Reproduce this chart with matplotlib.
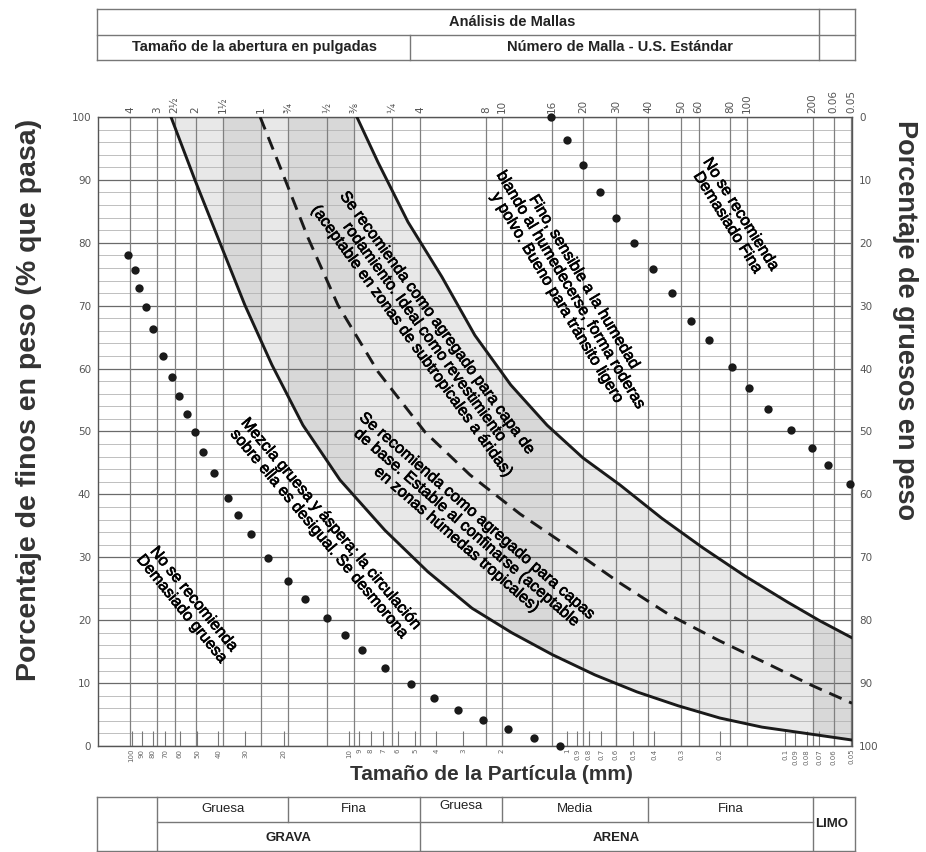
# -*- coding: utf-8 -*-
"""
Curva granulométrica - Análisis de Mallas
Eje X logarítmico (tamaño de partícula en mm), eje Y porcentaje que pasa
"""
import matplotlib.pyplot as plt
import matplotlib.patheffects as pe
from matplotlib.patches import Polygon
from matplotlib.lines import Line2D
from matplotlib.ticker import NullLocator, FixedLocator
from matplotlib.transforms import blended_transform_factory

plt.rcParams['font.family'] = ['Liberation Sans', 'DejaVu Sans']

# -------------------- datos --------------------
malla_mm = [101.6, 76.2, 63.5, 50.8, 38.1, 25.4, 19.05, 12.7, 9.525, 6.35, 4.75,
            2.36, 2.0, 1.18, 0.85, 0.6, 0.425, 0.3, 0.25, 0.18, 0.15, 0.075, 0.06, 0.05]
malla_txt = ['4', '3', '2½', '2', '1½', '1', '¾', '½', '⅜', '¼', '4',
             '8', '10', '16', '20', '30', '40', '50', '60', '80', '100', '200', '0.06', '0.05']

escala_mm = [100, 90, 80, 70, 60, 50, 40, 30, 20, 10, 9, 8, 7, 6, 5, 4, 3, 2, 1,
             0.9, 0.8, 0.7, 0.6, 0.5, 0.4, 0.3, 0.2, 0.1, 0.09, 0.08, 0.07, 0.06, 0.05]
escala_txt = ['%g' % v for v in escala_mm]

# curva límite gruesa (izquierda), línea media discontinua, límite fina (derecha)
lim_grueso_x = [65.9, 51.2, 39.3, 30.2, 22.7, 16.35, 11.06, 6.88, 4.37, 2.74, 1.80, 1.17,
                0.748, 0.48, 0.311, 0.20, 0.128, 0.083, 0.0495]
lim_grueso_y = [100, 90, 80, 70.1, 60.6, 51.0, 42.3, 34.3, 27.7, 21.9, 18.0, 14.5,
                11.3, 8.6, 6.4, 4.45, 3.0, 2.07, 0.95]
media_x = [25.7, 20.4, 15.5, 11.3, 7.4, 4.5, 2.80, 1.652, 0.975, 0.574, 0.339, 0.20,
           0.118, 0.0764, 0.0495]
media_y = [100, 91.3, 80.8, 70.1, 59.5, 49.9, 43.1, 36.9, 31.5, 25.9, 20.8, 16.7,
           12.9, 9.7, 6.8]
lim_fino_x = [9.25, 7.40, 5.39, 3.77, 2.66, 1.82, 1.24, 0.849, 0.574, 0.369, 0.239, 0.153,
              0.098, 0.0695, 0.0495]
lim_fino_y = [100, 92.8, 83.3, 74.6, 65.3, 57.4, 51.0, 45.8, 41.5, 36.2, 31.5, 27.0,
              22.9, 19.9, 17.2]

# puntos (demasiado gruesa / demasiado fina)
gruesa_x = [103.8, 96.4, 92.5, 85.8, 79.7, 71.7, 65.2, 60.6, 55.7, 51.2, 47.0, 41.8, 36.1, 32.5,
            28.3, 23.7, 19.1, 16.0, 12.7, 10.5, 8.77, 6.88, 5.22, 4.10, 3.18, 2.44, 1.88, 1.42, 1.08]
gruesa_y = [78.1, 75.7, 72.8, 69.8, 66.3, 62.0, 58.7, 55.6, 52.8, 49.9, 46.7, 43.4, 39.4, 36.7,
            33.7, 29.9, 26.2, 23.4, 20.3, 17.6, 15.3, 12.4, 9.9, 7.6, 5.7, 4.1, 2.7, 1.3, 0.0]
fina_x = [1.19, 1.005, 0.849, 0.710, 0.599, 0.496, 0.405, 0.332, 0.271, 0.224, 0.176, 0.147,
          0.120, 0.0944, 0.0756, 0.0638, 0.0506]
fina_y = [100, 96.3, 92.4, 88.1, 83.9, 80.0, 75.8, 72.0, 67.6, 64.5, 60.3, 56.9, 53.6, 50.2,
          47.4, 44.7, 41.7]

# franjas algo más oscuras dentro de la zona sombreada
franjas = [(38.1, 25.4), (19.05, 9.525), (2.0, 1.18), (0.075, 0.05)]

# textos rotados: (texto, x mm, y %, rotación)
notas = [
    ('No se recomienda\nDemasiado gruesa', 55.1, 22.6, -51),
    ('Mezcla gruesa y áspera; la circulación\nsobre ella es desigual. Se desmorona', 12.9, 34.5, -50),
    ('Se recomienda como agregado para capa de\nrodamiento. Ideal como revestimiento\n'
     '(aceptable en zonas de subtropicales a áridas)', 4.51, 65.8, -54),
    ('Se recomienda como agregado para capas\nde base. Estable al confinarse (aceptable\n'
     'en zonas húmedas tropicales)', 2.89, 34.7, -41),
    ('Fino, sensible a la humedad\nblando al humedecerse, forma roderas\n'
     'y polvo. Bueno para tránsito ligero', 0.964, 72.5, -59),
    ('No se recomienda\nDemasiado Fina', 0.1714, 83.9, -58),
]

# clasificación de suelos (tabla inferior)
limites_clase = [76.2, 19.05, 4.75, 2.0, 0.425, 0.075]
subclases = ['Gruesa', 'Fina', 'Gruesa', 'Media', 'Fina']
clases = [('GRAVA', 76.2, 4.75), ('ARENA', 4.75, 0.075)]

# -------------------- figura --------------------
W, H = 926, 852
fig = plt.figure(figsize=(W / 100, H / 100), dpi=100)


def fx(px):
    return px / W


def fy(py):
    return 1 - py / H


ax = fig.add_axes([fx(98), fy(746), (852 - 98) / W, (746 - 117) / H])
ax.set_xscale('log')
ax.set_xlim(142.5, 0.0495)
ax.set_ylim(0, 100)

# rejilla
for v in range(0, 101, 2):
    if v % 10 == 0:
        ax.axhline(v, color='#6a6a6a', lw=0.9, zorder=1.5)
    else:
        ax.axhline(v, color='#b4b4b4', lw=0.6, zorder=1.5)
for m in malla_mm:
    ax.axvline(m, color='#808080', lw=0.9, zorder=1.5)

# zona sombreada entre límites
poly_x = lim_grueso_x + lim_fino_x[::-1]
poly_y = lim_grueso_y + lim_fino_y[::-1]
zona = Polygon(list(zip(poly_x, poly_y)), closed=True, facecolor='#e8e8e8',
               edgecolor='none', zorder=1)
ax.add_patch(zona)
for a, b in franjas:
    s = ax.axvspan(a, b, color='#d8d8d8', lw=0, zorder=1.1)
    s.set_clip_path(zona)

ax.plot(lim_grueso_x, lim_grueso_y, color='#1a1a1a', lw=2.1, zorder=3)
ax.plot(lim_fino_x, lim_fino_y, color='#1a1a1a', lw=2.1, zorder=3)
ax.plot(media_x, media_y, color='#1a1a1a', lw=2.1, ls=(0, (4.6, 2.8)), zorder=3)

ax.plot(gruesa_x, gruesa_y, 'o', color='#1a1a1a', ms=6, mec='none', zorder=4, clip_on=False)
ax.plot(fina_x, fina_y, 'o', color='#1a1a1a', ms=6, mec='none', zorder=4, clip_on=False)

trazo = [pe.withStroke(linewidth=0.5, foreground='#000')]
for txt, x, y, rot in notas:
    ax.text(x, y, txt, rotation=rot, rotation_mode='anchor', ha='center', va='center',
            multialignment='center', fontsize=11.5, color='#000', linespacing=1.05,
            zorder=5, path_effects=trazo)

# ejes inferior / izquierdo
ax.xaxis.set_major_locator(FixedLocator(escala_mm))
ax.xaxis.set_minor_locator(NullLocator())
ax.set_xticklabels(escala_txt, rotation=90, fontsize=5, color='#666',
                   family='DejaVu Sans')
ax.tick_params(axis='x', direction='in', length=11, width=0.8, color='#777', pad=2)
ax.set_yticks(range(0, 101, 10))
ax.set_yticklabels([str(v) for v in range(0, 101, 10)], fontsize=7.5, color='#555',
                   family='DejaVu Sans')
ax.tick_params(axis='y', length=0, pad=5)
for sp in ax.spines.values():
    sp.set_color('#555')
    sp.set_linewidth(1.0)

# eje derecho: % de gruesos
ax_r = ax.twinx()
ax_r.set_ylim(100, 0)
ax_r.set_yticks(range(0, 101, 10))
ax_r.set_yticklabels([str(v) for v in range(0, 101, 10)], fontsize=7.5, color='#555',
                     family='DejaVu Sans')
ax_r.tick_params(axis='y', length=0, pad=5)
for sp in ax_r.spines.values():
    sp.set_visible(False)

# eje superior: mallas
ax_t = ax.twiny()
ax_t.set_xscale('log')
ax_t.set_xlim(ax.get_xlim())
ax_t.xaxis.set_major_locator(FixedLocator(malla_mm))
ax_t.xaxis.set_minor_locator(NullLocator())
ax_t.set_xticklabels(malla_txt, rotation=90, fontsize=7.5, color='#555', family='DejaVu Sans')
ax_t.tick_params(axis='x', length=0, pad=3)
for sp in ax_t.spines.values():
    sp.set_visible(False)

# títulos de ejes
fig.text(fx(29), fy(400), 'Porcentaje de finos en peso (% que pasa)', rotation=90,
         ha='center', va='center', fontsize=20.5, weight='bold', color='#333')
fig.text(fx(905), fy(320), 'Porcentaje de gruesos en peso', rotation=-90,
         ha='center', va='center', fontsize=19.5, weight='bold', color='#333')
fig.text(fx(491), fy(774), 'Tamaño de la Partícula (mm)', ha='center', va='center',
         fontsize=15, weight='bold', color='#333')


def linea(x0, y0, x1, y1):
    fig.add_artist(Line2D([fx(x0), fx(x1)], [fy(y0), fy(y1)], transform=fig.transFigure,
                          color='#777', lw=1.0))


# tabla superior: análisis de mallas
linea(97, 9, 855, 9)
linea(97, 60, 855, 60)
linea(97, 9, 97, 60)
linea(855, 9, 855, 60)
linea(97, 35, 855, 35)
linea(819, 9, 819, 60)
linea(410, 35, 410, 60)
fig.text(fx(512), fy(22), 'Análisis de Mallas', ha='center', va='center',
         fontsize=10.5, weight='bold', color='#222')
fig.text(fx(255), fy(47), 'Tamaño de la abertura en pulgadas', ha='center', va='center',
         fontsize=10.5, weight='bold', color='#222')
fig.text(fx(620), fy(47), 'Número de Malla - U.S. Estándar', ha='center', va='center',
         fontsize=10.5, weight='bold', color='#222')

# tabla inferior: clasificación
tr = blended_transform_factory(ax.transData, fig.transFigure)
linea(97, 797, 855, 797)
linea(97, 851, 855, 851)
linea(97, 797, 97, 851)
linea(855, 797, 855, 851)
fig.add_artist(Line2D([limites_clase[0], limites_clase[-1]], [fy(822), fy(822)],
                      transform=tr, color='#777', lw=1.0))
for m in limites_clase:
    full = m in (76.2, 4.75, 0.075)
    ybot = fy(851) if full else fy(822)
    fig.add_artist(Line2D([m, m], [fy(797), ybot], transform=tr, color='#777', lw=1.0))
for i, nombre in enumerate(subclases):
    a, b = limites_clase[i], limites_clase[i + 1]
    xm = (a * b) ** 0.5
    yy = fy(806) if i == 2 else fy(809)
    fig.text(xm, yy, nombre, transform=tr, ha='center', va='center', fontsize=9.5,
             color='#222', family=['Liberation Sans Narrow', 'Liberation Sans'])
for nombre, a, b in clases:
    xm = (a * b) ** 0.5
    fig.text(xm, fy(838), nombre, transform=tr, ha='center', va='center', fontsize=9.5,
             weight='bold', color='#222', family=['Liberation Sans Narrow', 'Liberation Sans'])
fig.text(fx(832), fy(824), 'LIMO', ha='center', va='center', fontsize=9.5, weight='bold',
         color='#222', family=['Liberation Sans Narrow', 'Liberation Sans'])

fig.savefig('out.png', dpi=100, facecolor='white')
